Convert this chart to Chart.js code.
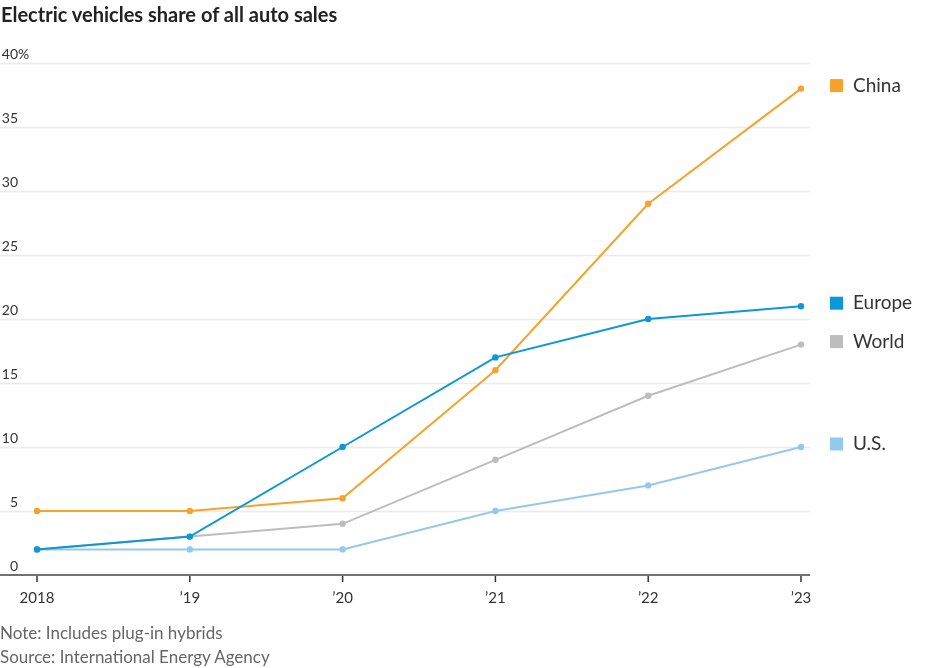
<!DOCTYPE html>
<html>
<head>
<meta charset="utf-8">
<script src="https://cdn.jsdelivr.net/npm/chart.js@4.4.1/dist/chart.umd.min.js"></script>
<style>
body{margin:0;background:#fff;}
#wrap{position:relative;width:936px;height:668px;font-family:Lato,"Noto Sans",sans-serif;}
#title{position:absolute;left:1px;top:2px;font-size:20px;line-height:24px;font-weight:bold;color:#222;white-space:nowrap;}
.note{position:absolute;left:0;font-size:17px;line-height:20px;color:#666;white-space:nowrap;}
canvas{position:absolute;left:0;top:0;}
</style>
</head>
<body>
<div id="wrap">
<canvas id="evChart" width="936" height="668"></canvas>
<div id="title">Electric vehicles share of all auto sales</div>
<div class="note" style="top:623px">Note: Includes plug-in hybrids</div>
<div class="note" style="top:647px">Source: International Energy Agency</div>
</div>
<script>
const years=['2018','\u201919','\u201920','\u201921','\u201922','\u201923'];
const china=[5,5,6,16,29,38];
const europe=[2,3,10,17,20,21];
const world=[2,3,4,9,14,18];
const us=[2,2,2,5,7,10];
const yTicks=[0,5,10,15,20,25,30,35,40];

const colors={China:'#f7a22b',Europe:'#0b97d8',World:'#bdbdbd','U.S.':'#94c9ef'};
const fontFamily='Lato, "Noto Sans", sans-serif';

function series(name,values){
    return {
        label:name,
        data:values,
        borderColor:colors[name],
        backgroundColor:colors[name],
        borderWidth:2,
        pointRadius:3.2,
        pointBorderWidth:0,
        pointHoverRadius:3.2,
        tension:0
    };
}

const wsjAxes={
    id:'wsjAxes',
    beforeDatasetsDraw(chart){
        const c=chart.ctx, y=chart.scales.y, area=chart.chartArea;
        c.save();
        c.strokeStyle='#ebebeb';
        c.lineWidth=1.5;
        yTicks.forEach(v=>{
            if(v===0) return;
            const py=Math.round(y.getPixelForValue(v))+0.5;
            c.beginPath();
            c.moveTo(0,py);
            c.lineTo(area.right+9,py);
            c.stroke();
        });
        c.restore();
    },
    afterDraw(chart){
        const c=chart.ctx, x=chart.scales.x, y=chart.scales.y, area=chart.chartArea;
        c.save();
        // baseline
        const base=y.getPixelForValue(0);
        c.strokeStyle='#707070';
        c.lineWidth=2;
        c.beginPath();
        c.moveTo(0,base);
        c.lineTo(area.right+9,base);
        c.stroke();
        // ticks and x labels
        c.strokeStyle='#333';
        c.lineWidth=1.5;
        c.fillStyle='#333';
        c.font='15px '+fontFamily;
        c.textAlign='center';
        c.textBaseline='middle';
        years.forEach((lab,i)=>{
            const px=x.getPixelForValue(i);
            c.beginPath();
            c.moveTo(px,base+1);
            c.lineTo(px,base+7);
            c.stroke();
            c.fillText(lab,px,base+23);
        });
        // y labels above gridlines
        c.font='14px '+fontFamily;
        c.textBaseline='alphabetic';
        yTicks.forEach(v=>{
            const py=y.getPixelForValue(v)-4;
            c.textAlign='right';
            c.fillText(String(v),18,py);
            if(v===40){
                c.textAlign='left';
                c.fillText('%',18,py);
            }
        });
        // end labels
        c.font='19px '+fontFamily;
        c.textAlign='left';
        c.textBaseline='middle';
        chart.data.datasets.forEach(ds=>{
            const last=ds.data[ds.data.length-1];
            const py=y.getPixelForValue(last)-3;
            c.fillStyle=colors[ds.label];
            c.fillRect(830,py-6.5,13,13);
            c.fillStyle='#333';
            c.fillText(ds.label,853,py);
        });
        c.restore();
    }
};

const ctx=document.getElementById('evChart').getContext('2d');
const chart=new Chart(ctx,{
    type:'line',
    data:{
        labels:years,
        datasets:[
            series('Europe',europe),
            series('China',china),
            series('World',world),
            series('U.S.',us)
        ]
    },
    options:{
        responsive:false,
        animation:false,
        layout:{padding:{left:37,right:135,top:63,bottom:93}},
        scales:{
            x:{display:false,offset:false},
            y:{display:false,min:0,max:40}
        },
        plugins:{
            legend:{display:false},
            tooltip:{enabled:false}
        }
    },
    plugins:[wsjAxes]
});
</script>
</body>
</html>
